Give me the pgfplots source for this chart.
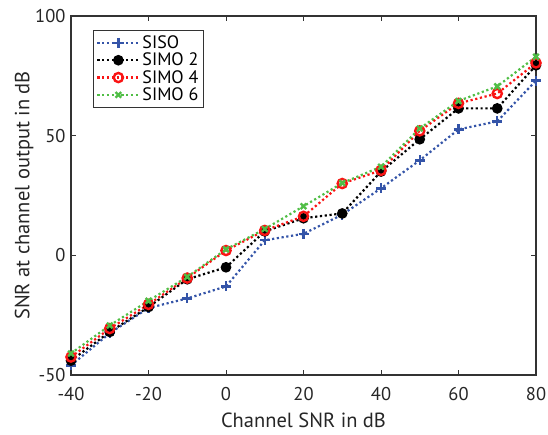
\documentclass[border=0pt]{standalone}
\usepackage{pgfplots}
\pgfplotsset{compat=1.18}
\usepackage{fontspec}
\setmainfont{PT Sans}
\definecolor{axgray}{gray}{0.2}
\definecolor{sisoblue}{RGB}{52,84,168}
\definecolor{simored}{RGB}{250,20,20}
\definecolor{simogreen}{RGB}{80,190,70}
\begin{document}
\begin{tikzpicture}
\useasboundingbox (-71pt,-59pt) rectangle (477pt,375pt);
\begin{axis}[
  at={(0pt,0pt)}, anchor=south west,
  scale only axis,
  width=465pt, height=359pt,
  xmin=-40, xmax=80, ymin=-50, ymax=100,
  xtick={-40,-20,...,80}, ytick={-50,0,50,100},
  tick align=inside,
  major tick length=5pt,
  axis line style={axgray, line width=1.1pt},
  every tick/.style={axgray, line width=1pt},
  tick label style={font=\fontsize{18.5}{21}\selectfont, text=black!85},
  xticklabel style={yshift=-9pt},
  yticklabel style={xshift=-2pt},
  label style={font=\fontsize{20.5}{23}\selectfont, text=black!85},
  /pgf/number format/assume math mode=true,
  xlabel={Channel SNR in dB},
  ylabel={SNR at channel output in dB},
  xlabel style={yshift=-5pt},
  ylabel style={yshift=-5pt},
  legend style={at={(0.047,0.96)}, anchor=north west, draw=axgray, line width=0.8pt,
    font=\fontsize{18}{21}\selectfont, row sep=-1pt, inner sep=3pt},
  legend cell align=left,
  legend image code/.code={\draw[mark repeat=2,mark phase=2] plot coordinates {(0pt,0pt) (21pt,0pt) (42pt,0pt)};},
  every axis plot/.append style={line width=2.2pt, dash pattern=on 2.2pt off 2.6pt, mark options={solid}},
]
\addplot[color=sisoblue, mark=+, mark size=5pt, mark options={solid, line width=2.4pt}] coordinates {
(-40,-46) (-30,-32.5) (-20,-22) (-10,-18) (0,-13) (10,6.3) (20,9) (30,17) (40,28) (50,39.7) (60,52.6) (70,56) (80,73)};
\addlegendentry{SISO}
\addplot[color=black, mark=*, mark size=4.2pt] coordinates {
(-40,-44) (-30,-32) (-20,-21.6) (-10,-10) (0,-5) (10,10) (20,15.5) (30,17.5) (40,35) (50,48.5) (60,61.4) (70,61.4) (80,79.4)};
\addlegendentry{SIMO 2}
\addplot[color=simored, mark=o, mark size=4.6pt, mark options={solid, line width=2.4pt}] coordinates {
(-40,-42.5) (-30,-30.6) (-20,-20.5) (-10,-9.5) (0,2) (10,10.4) (20,16.3) (30,30) (40,35.5) (50,52) (60,63.5) (70,67.6) (80,80.4)};
\addlegendentry{SIMO 4}
\addplot[color=simogreen, mark=x, mark size=4pt, mark options={solid, line width=2.4pt}] coordinates {
(-40,-41) (-30,-29.3) (-20,-19) (-10,-9) (0,2.5) (10,11) (20,20.5) (30,30.2) (40,37) (50,53) (60,64.5) (70,70.6) (80,83)};
\addlegendentry{SIMO 6}
\end{axis}
\end{tikzpicture}
\end{document}
